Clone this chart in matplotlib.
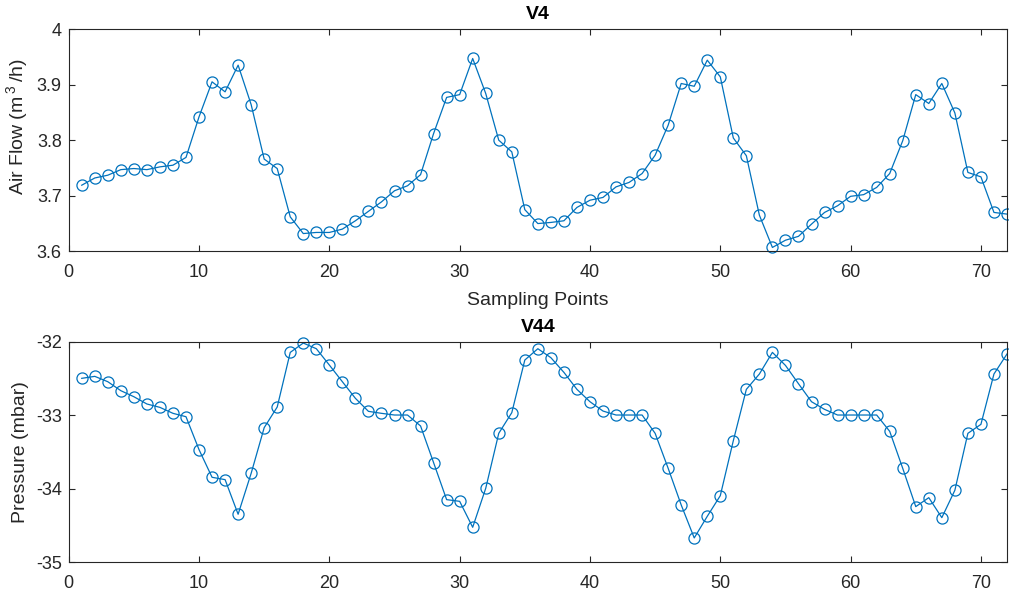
import matplotlib
matplotlib.use("Agg")
import matplotlib.pyplot as plt
from matplotlib.ticker import FuncFormatter

plt.rcParams['font.family'] = ['Liberation Sans', 'DejaVu Sans']
plt.rcParams['axes.unicode_minus'] = False
plt.rcParams['mathtext.fontset'] = 'custom'
plt.rcParams['mathtext.rm'] = 'Liberation Sans'

sampling_points = list(range(1, 73))

air_flow_v4 = [
    3.719, 3.732, 3.737, 3.747, 3.749, 3.747, 3.752, 3.755, 3.769, 3.842,
    3.905, 3.887, 3.935, 3.864, 3.766, 3.749, 3.662, 3.632, 3.634, 3.634,
    3.640, 3.655, 3.672, 3.689, 3.709, 3.718, 3.738, 3.812, 3.877, 3.882,
    3.947, 3.884, 3.800, 3.779, 3.675, 3.650, 3.652, 3.655, 3.679, 3.692,
    3.697, 3.716, 3.724, 3.740, 3.773, 3.827, 3.902, 3.897, 3.944, 3.914,
    3.804, 3.772, 3.665, 3.607, 3.620, 3.627, 3.649, 3.670, 3.682, 3.699,
    3.702, 3.715, 3.740, 3.799, 3.882, 3.866, 3.902, 3.849, 3.742, 3.734,
    3.670, 3.667,
]

pressure_v44 = [
    -32.498, -32.471, -32.544, -32.666, -32.748, -32.847, -32.893, -32.974, -33.020, -33.468,
    -33.844, -33.876, -34.347, -33.790, -33.169, -32.888, -32.145, -32.018, -32.095, -32.317,
    -32.544, -32.770, -32.947, -32.974, -32.997, -32.997, -33.146, -33.645, -34.148, -34.171,
    -34.524, -33.994, -33.246, -32.965, -32.249, -32.095, -32.217, -32.417, -32.648, -32.816,
    -32.943, -32.997, -32.997, -32.997, -33.246, -33.722, -34.220, -34.669, -34.375, -34.094,
    -33.346, -32.648, -32.439, -32.145, -32.322, -32.571, -32.816, -32.920, -32.997, -32.997,
    -32.997, -32.997, -33.219, -33.722, -34.243, -34.121, -34.393, -34.021, -33.246, -33.124,
    -32.439, -32.167,
]

x_ticks = [0, 10, 20, 30, 40, 50, 60, 70]
flow_ticks = [3.6, 3.7, 3.8, 3.9, 4.0]
pressure_ticks = [-35, -34, -33, -32]

line_color = '#0072BD'
axis_color = '#262626'

fig = plt.figure(figsize=(10.09, 5.90), dpi=100)
ax1 = fig.add_axes([0.0681, 0.574, 0.9299, 0.3768])
ax2 = fig.add_axes([0.0681, 0.047, 0.9299, 0.3738])


def style_axes(ax):
    for spine in ax.spines.values():
        spine.set_color(axis_color)
        spine.set_linewidth(0.8)
    ax.tick_params(direction='in', length=4, width=0.8, colors=axis_color,
                   labelcolor=axis_color, labelsize=13,
                   top=True, right=True)
    ax.tick_params(axis='x', pad=9)
    ax.tick_params(axis='y', pad=5)
    ax.yaxis.set_major_formatter(FuncFormatter(lambda v, p: f'{v:g}'))


ax1.plot(sampling_points, air_flow_v4, '-o', color=line_color, lw=0.9,
         markersize=8, markerfacecolor='none', markeredgewidth=0.9, clip_on=False)
ax1.set_xlim(0, 72)
ax1.set_ylim(3.6, 4.0)
ax1.set_xticks(x_ticks)
ax1.set_yticks(flow_ticks)
ax1.set_title('V4', fontsize=14, fontweight='bold', color='black', pad=7)
ax1.set_xlabel('Sampling Points', fontsize=14, color=axis_color, labelpad=8)
ax1.set_ylabel(r'Air Flow (m$\mathregular{\,^{3}\,}$/h)', fontsize=14,
               color=axis_color, labelpad=5)
ax1.yaxis.label.set_y(0.56)
style_axes(ax1)

ax2.plot(sampling_points, pressure_v44, '-o', color=line_color, lw=0.9,
         markersize=8, markerfacecolor='none', markeredgewidth=0.9, clip_on=False)
ax2.set_xlim(0, 72)
ax2.set_ylim(-35, -32)
ax2.set_xticks(x_ticks)
ax2.set_yticks(pressure_ticks)
ax2.set_title('V44', fontsize=14, fontweight='bold', color='black', pad=7)
ax2.set_ylabel('Pressure (mbar)', fontsize=14, color=axis_color, labelpad=5)
style_axes(ax2)

fig.savefig('out.png', dpi=100)
